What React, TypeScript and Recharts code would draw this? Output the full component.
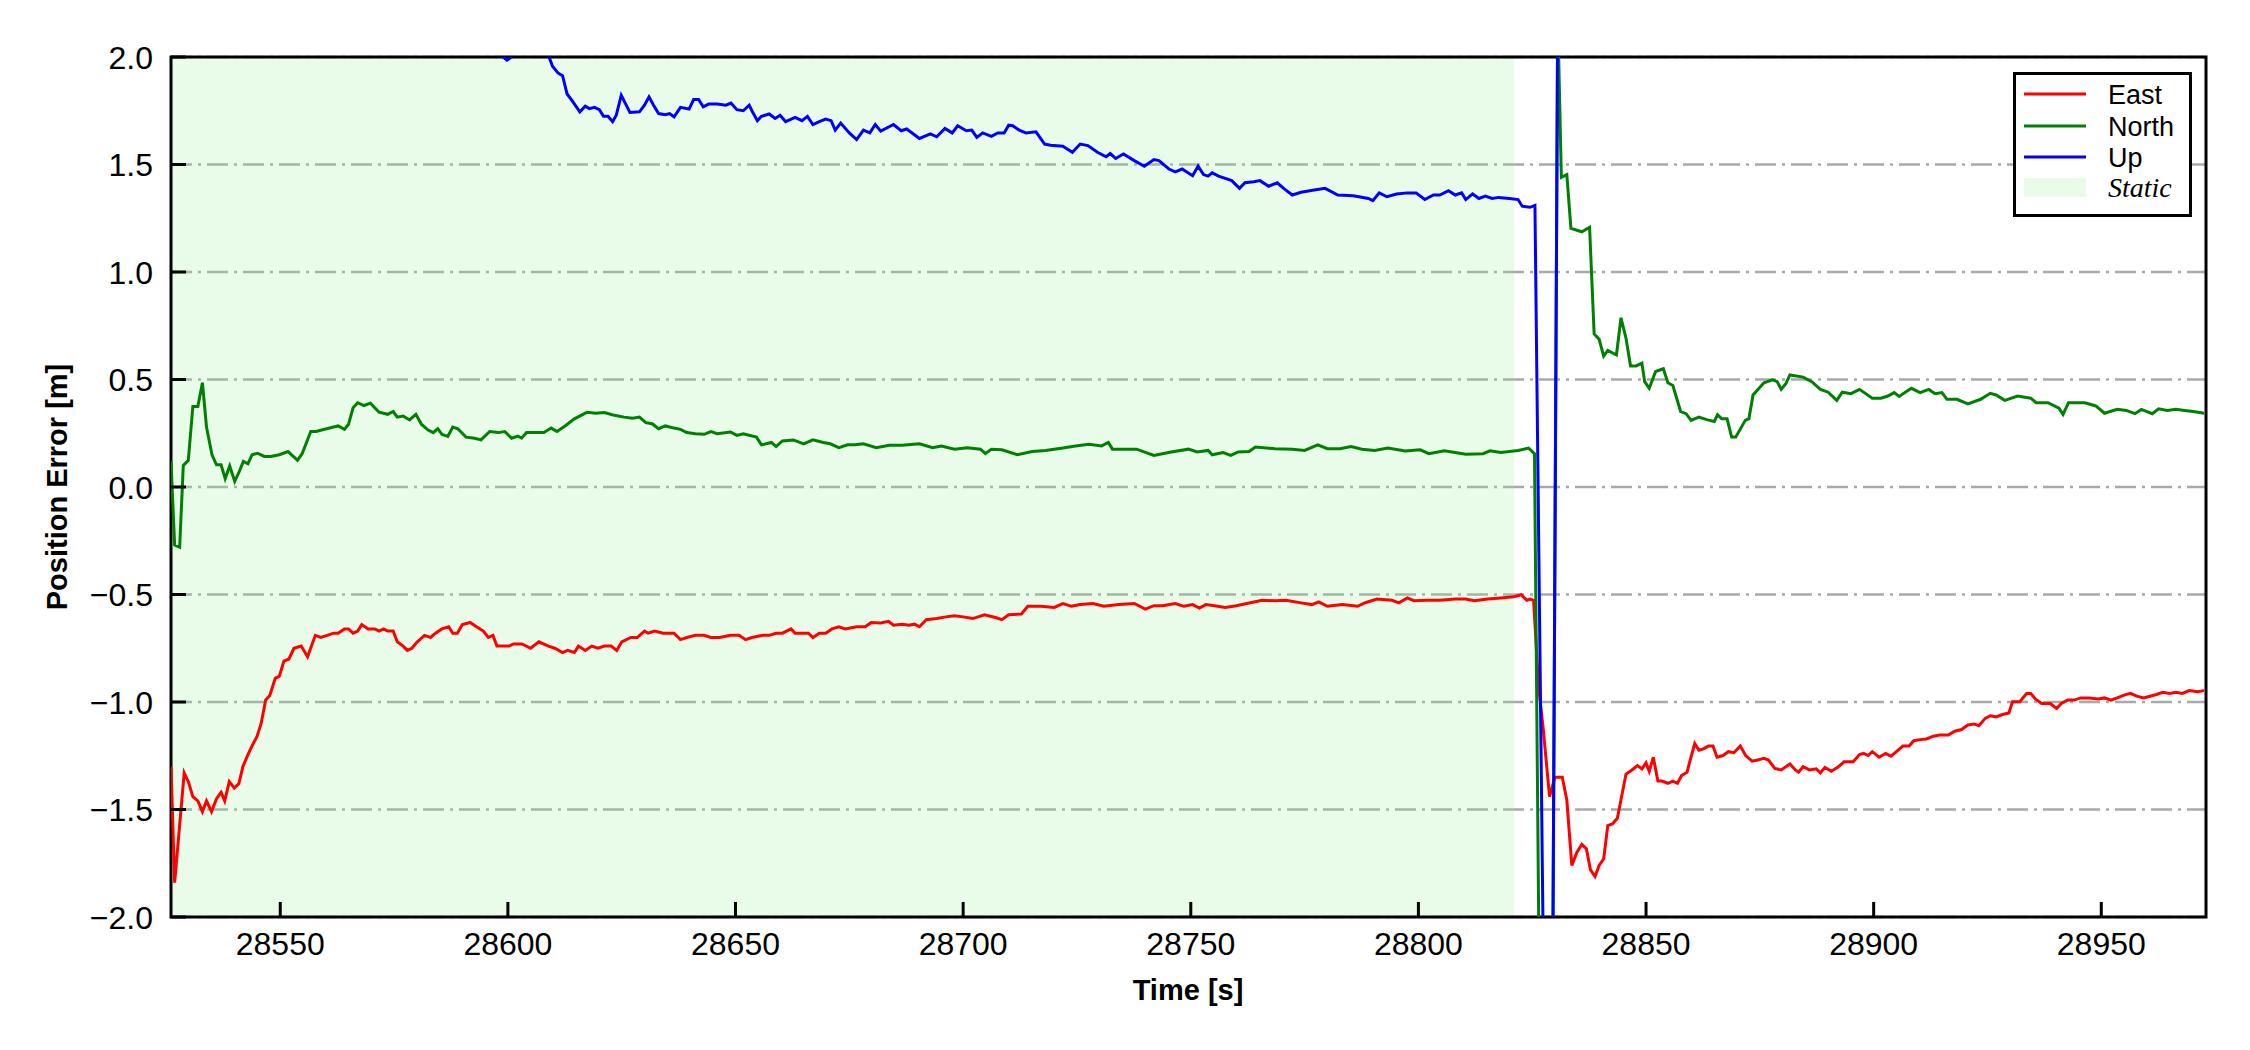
import React from 'react'
import {
  LineChart,
  Line,
  XAxis,
  YAxis,
  CartesianGrid,
  ReferenceArea,
  ReferenceLine,
  Legend,
} from 'recharts'

// [time (s), error (m)] pairs
const EAST: [number, number][] = [
  [28526.0, -1.30], [28526.8, -1.84], [28528.9, -1.33], [28529.8, -1.37], [28530.8, -1.44],
  [28531.9, -1.46], [28532.9, -1.51], [28533.8, -1.46], [28534.9, -1.51], [28536.0, -1.45],
  [28537.0, -1.42], [28537.8, -1.46], [28538.8, -1.37], [28539.9, -1.40], [28540.9, -1.38],
  [28541.8, -1.30], [28543.0, -1.24], [28543.9, -1.20], [28544.9, -1.16], [28545.8, -1.10],
  [28546.8, -0.99], [28547.7, -0.97], [28548.9, -0.89], [28549.8, -0.88], [28550.8, -0.81],
  [28551.9, -0.80], [28553.0, -0.75], [28554.6, -0.74], [28556.0, -0.79], [28557.7, -0.69],
  [28558.9, -0.70], [28560.3, -0.69], [28561.7, -0.68], [28562.7, -0.68], [28564.1, -0.66],
  [28565.0, -0.66], [28566.0, -0.68], [28567.0, -0.67], [28567.9, -0.64], [28569.3, -0.66],
  [28570.8, -0.66], [28571.7, -0.67], [28572.7, -0.66], [28573.6, -0.67], [28574.8, -0.67],
  [28575.7, -0.72], [28577.0, -0.74], [28577.9, -0.76], [28578.9, -0.75], [28580.1, -0.72],
  [28581.7, -0.69], [28583.0, -0.70], [28584.1, -0.68], [28585.5, -0.66], [28587.0, -0.65],
  [28587.9, -0.68], [28588.9, -0.68], [28590.0, -0.64], [28591.7, -0.63], [28593.1, -0.65],
  [28594.6, -0.67], [28595.7, -0.70], [28596.7, -0.69], [28597.6, -0.74], [28598.9, -0.74],
  [28600.3, -0.74], [28601.2, -0.73], [28603.1, -0.73], [28605.0, -0.75], [28606.8, -0.72],
  [28608.9, -0.74], [28610.3, -0.75], [28612.0, -0.77], [28613.1, -0.76], [28614.6, -0.77],
  [28615.5, -0.74], [28617.0, -0.76], [28618.4, -0.74], [28619.8, -0.75], [28621.2, -0.74],
  [28622.7, -0.74], [28623.9, -0.76], [28625.0, -0.72], [28627.0, -0.70], [28628.4, -0.70],
  [28630.0, -0.67], [28630.8, -0.68], [28632.2, -0.67], [28634.1, -0.68], [28636.5, -0.68],
  [28637.9, -0.71], [28639.3, -0.70], [28641.2, -0.69], [28643.1, -0.69], [28644.6, -0.70],
  [28646.5, -0.70], [28648.9, -0.69], [28650.8, -0.69], [28652.2, -0.71], [28653.6, -0.70],
  [28656.0, -0.69], [28657.4, -0.69], [28658.9, -0.68], [28660.3, -0.68], [28662.2, -0.66],
  [28663.1, -0.68], [28664.6, -0.68], [28666.0, -0.68], [28667.0, -0.70], [28668.4, -0.68],
  [28669.8, -0.68], [28671.2, -0.66], [28672.7, -0.65], [28674.1, -0.66], [28675.2, -0.656],
  [28676.6, -0.65], [28678.5, -0.65], [28679.8, -0.63], [28681.9, -0.632], [28683.6, -0.625],
  [28684.7, -0.643], [28686.6, -0.638], [28688.1, -0.643], [28689.3, -0.638], [28690.4, -0.65],
  [28691.9, -0.617], [28694.2, -0.612], [28696.2, -0.604], [28698.1, -0.599], [28700.0, -0.604],
  [28702.1, -0.612], [28704.7, -0.594], [28707.1, -0.607], [28708.5, -0.617], [28710.0, -0.594],
  [28712.8, -0.591], [28714.2, -0.555], [28717.1, -0.555], [28720.0, -0.56], [28721.9, -0.542],
  [28723.8, -0.555], [28725.7, -0.547], [28728.5, -0.542], [28730.9, -0.555], [28734.2, -0.547],
  [28737.6, -0.542], [28740.0, -0.568], [28741.9, -0.552], [28743.8, -0.552], [28746.6, -0.542],
  [28748.5, -0.555], [28750.4, -0.547], [28751.9, -0.563], [28753.3, -0.547], [28755.2, -0.552],
  [28757.6, -0.56], [28760.0, -0.552], [28762.3, -0.542], [28765.7, -0.527], [28768.5, -0.529],
  [28770.9, -0.527], [28774.2, -0.539], [28776.6, -0.547], [28778.1, -0.534], [28780.0, -0.555],
  [28783.3, -0.547], [28786.6, -0.555], [28788.5, -0.537], [28790.9, -0.521], [28794.2, -0.527],
  [28795.7, -0.539], [28797.6, -0.516], [28799.0, -0.529], [28801.9, -0.527], [28804.7, -0.527],
  [28808.1, -0.521], [28810.4, -0.521], [28812.3, -0.529], [28815.2, -0.521], [28818.1, -0.516],
  [28820.9, -0.511], [28822.6, -0.501], [28823.8, -0.527], [28824.5, -0.521], [28825.3, -0.527],
  [28826.4, -0.93], [28827.4, -1.12], [28828.8, -1.44], [28830.0, -1.35], [28831.6, -1.35],
  [28832.6, -1.456], [28833.7, -1.76], [28834.8, -1.70], [28835.9, -1.662], [28836.9, -1.683],
  [28837.8, -1.781], [28838.8, -1.812], [28839.7, -1.76], [28840.7, -1.729], [28841.6, -1.575],
  [28842.6, -1.567], [28843.7, -1.541], [28845.6, -1.335], [28846.9, -1.316], [28848.1, -1.296],
  [28849.1, -1.311], [28850.0, -1.283], [28850.7, -1.322], [28851.6, -1.257], [28852.6, -1.368],
  [28853.5, -1.368], [28854.8, -1.378], [28855.9, -1.368], [28856.9, -1.378], [28857.8, -1.342],
  [28859.0, -1.327], [28859.7, -1.27], [28860.7, -1.193], [28861.6, -1.224], [28862.6, -1.218],
  [28863.7, -1.205], [28864.7, -1.205], [28865.6, -1.257], [28866.9, -1.249], [28868.1, -1.231],
  [28869.3, -1.236], [28870.7, -1.205], [28871.9, -1.249], [28873.3, -1.275], [28874.5, -1.27],
  [28875.9, -1.262], [28876.9, -1.27], [28878.3, -1.309], [28879.7, -1.316], [28881.6, -1.288],
  [28882.8, -1.316], [28883.5, -1.327], [28884.5, -1.301], [28885.9, -1.316], [28887.4, -1.311],
  [28888.3, -1.329], [28889.3, -1.304], [28890.7, -1.322], [28892.1, -1.304], [28893.5, -1.278],
  [28895.5, -1.278], [28896.9, -1.244], [28897.8, -1.239], [28898.8, -1.249], [28899.7, -1.231],
  [28901.2, -1.257], [28902.6, -1.239], [28903.8, -1.252], [28905.0, -1.231], [28906.4, -1.205],
  [28907.8, -1.205], [28908.8, -1.18], [28910.2, -1.175], [28911.6, -1.172], [28913.1, -1.159],
  [28914.5, -1.154], [28916.4, -1.154], [28917.8, -1.136], [28919.3, -1.128], [28920.7, -1.107],
  [28922.1, -1.102], [28923.1, -1.11], [28924.5, -1.076], [28925.6, -1.064], [28926.9, -1.069],
  [28928.3, -1.058], [28929.7, -1.051], [28930.5, -0.999], [28932.1, -0.999], [28933.6, -0.96],
  [28934.5, -0.96], [28935.5, -0.986], [28936.9, -1.007], [28938.8, -1.007], [28940.2, -1.03],
  [28941.2, -1.007], [28942.6, -0.991], [28944.0, -0.991], [28945.5, -0.981], [28947.4, -0.981],
  [28949.3, -0.986], [28950.7, -0.981], [28952.1, -0.991], [28953.5, -0.981], [28955.0, -0.968],
  [28956.4, -0.96], [28957.8, -0.973], [28959.3, -0.981], [28960.7, -0.973], [28962.1, -0.965],
  [28963.5, -0.955], [28965.0, -0.96], [28966.4, -0.955], [28967.8, -0.96], [28969.3, -0.947],
  [28971.2, -0.952], [28972.6, -0.947],
]

const NORTH: [number, number][] = [
  [28526.0, 0.12], [28526.8, -0.27], [28527.9, -0.28], [28528.7, 0.10], [28529.8, 0.124],
  [28530.8, 0.374], [28531.9, 0.374], [28532.9, 0.485], [28533.8, 0.279], [28535.0, 0.15],
  [28536.0, 0.103], [28537.0, 0.103], [28537.9, 0.039], [28538.9, 0.098], [28540.0, 0.026],
  [28541.0, 0.072], [28541.9, 0.119], [28542.9, 0.108], [28543.8, 0.15], [28545.0, 0.157],
  [28546.5, 0.142], [28547.9, 0.142], [28549.8, 0.15], [28551.7, 0.165], [28553.8, 0.124],
  [28554.8, 0.155], [28556.7, 0.258], [28557.9, 0.258], [28559.3, 0.266], [28561.7, 0.279],
  [28562.7, 0.284], [28564.1, 0.268], [28565.0, 0.292], [28566.0, 0.369], [28567.0, 0.392],
  [28568.4, 0.379], [28569.8, 0.39], [28571.7, 0.348], [28573.6, 0.338], [28574.8, 0.351],
  [28575.7, 0.325], [28577.0, 0.33], [28578.4, 0.312], [28579.8, 0.338], [28581.0, 0.292],
  [28582.4, 0.266], [28583.6, 0.253], [28584.6, 0.271], [28585.5, 0.245], [28586.8, 0.235],
  [28587.9, 0.279], [28589.0, 0.271], [28590.8, 0.232], [28592.7, 0.227], [28594.1, 0.219],
  [28596.0, 0.258], [28597.9, 0.253], [28599.3, 0.258], [28600.8, 0.227], [28602.2, 0.237],
  [28603.0, 0.227], [28604.1, 0.253], [28606.0, 0.253], [28607.9, 0.253], [28609.5, 0.274],
  [28610.8, 0.258], [28612.7, 0.286], [28614.6, 0.317], [28616.5, 0.338], [28617.4, 0.348],
  [28619.3, 0.343], [28621.2, 0.346], [28623.1, 0.335], [28625.5, 0.325], [28627.4, 0.32],
  [28628.9, 0.325], [28630.3, 0.299], [28631.7, 0.294], [28633.1, 0.271], [28634.6, 0.284],
  [28636.5, 0.274], [28637.9, 0.268], [28639.3, 0.253], [28641.2, 0.248], [28643.1, 0.245],
  [28644.6, 0.258], [28646.0, 0.248], [28648.9, 0.256], [28650.3, 0.24], [28651.7, 0.248],
  [28654.6, 0.232], [28655.7, 0.196], [28657.9, 0.207], [28658.9, 0.188], [28660.3, 0.214],
  [28662.7, 0.219], [28665.0, 0.201], [28667.0, 0.219], [28669.3, 0.207], [28670.8, 0.201],
  [28672.7, 0.183], [28674.6, 0.196], [28676.2, 0.196], [28678.1, 0.201], [28680.9, 0.183],
  [28683.8, 0.194], [28686.6, 0.194], [28690.4, 0.201], [28693.3, 0.183], [28695.2, 0.191],
  [28698.1, 0.176], [28700.9, 0.183], [28703.8, 0.176], [28704.9, 0.155], [28706.2, 0.176],
  [28708.5, 0.173], [28711.9, 0.15], [28715.2, 0.165], [28718.1, 0.17], [28721.9, 0.181],
  [28724.7, 0.191], [28727.6, 0.199], [28730.4, 0.191], [28731.9, 0.207], [28732.8, 0.176],
  [28738.1, 0.176], [28741.9, 0.147], [28745.7, 0.163], [28749.5, 0.176], [28751.4, 0.163],
  [28753.8, 0.17], [28754.7, 0.15], [28757.1, 0.16], [28758.8, 0.147], [28760.4, 0.163],
  [28762.8, 0.165], [28764.2, 0.186], [28768.5, 0.178], [28772.3, 0.176], [28775.0, 0.17],
  [28777.9, 0.196], [28780.0, 0.178], [28782.8, 0.178], [28785.2, 0.188], [28787.6, 0.176],
  [28790.4, 0.17], [28793.3, 0.181], [28797.1, 0.168], [28800.4, 0.173], [28802.3, 0.155],
  [28805.7, 0.168], [28810.4, 0.152], [28814.2, 0.155], [28815.7, 0.168], [28818.1, 0.16],
  [28821.9, 0.17], [28824.2, 0.181], [28825.5, 0.155], [28826.5, -2.2], [28828.0, -7.0],
  [28829.5, -2.3], [28830.6, 2.2], [28831.4, 1.44], [28832.6, 1.453], [28833.5, 1.203],
  [28835.9, 1.187], [28837.6, 1.208], [28838.6, 0.712], [28839.7, 0.687], [28840.7, 0.609],
  [28841.6, 0.635], [28843.5, 0.614], [28844.5, 0.787], [28845.6, 0.692], [28846.6, 0.563],
  [28847.8, 0.563], [28849.1, 0.576], [28849.7, 0.49], [28850.7, 0.459], [28852.1, 0.537],
  [28853.8, 0.55], [28854.8, 0.485], [28855.9, 0.472], [28857.6, 0.351], [28858.8, 0.341],
  [28859.9, 0.31], [28861.6, 0.325], [28863.5, 0.312], [28865.0, 0.305], [28865.7, 0.336],
  [28866.6, 0.318], [28867.8, 0.318], [28868.8, 0.232], [28869.7, 0.232], [28871.8, 0.31],
  [28872.6, 0.318], [28873.5, 0.428], [28875.9, 0.485], [28877.8, 0.498], [28878.8, 0.49],
  [28879.7, 0.454], [28880.7, 0.48], [28881.6, 0.521], [28884.5, 0.511], [28886.4, 0.49],
  [28888.3, 0.454], [28890.0, 0.441], [28891.9, 0.403], [28893.1, 0.441], [28895.0, 0.434],
  [28896.9, 0.454], [28899.7, 0.413], [28901.6, 0.413], [28903.1, 0.423], [28904.5, 0.439],
  [28905.6, 0.421], [28907.2, 0.444], [28908.3, 0.459], [28910.2, 0.439], [28912.1, 0.454],
  [28913.5, 0.434], [28915.0, 0.439], [28916.1, 0.408], [28918.3, 0.408], [28920.7, 0.387],
  [28923.5, 0.408], [28925.6, 0.436], [28926.9, 0.428], [28928.8, 0.403], [28931.6, 0.423],
  [28934.5, 0.413], [28935.7, 0.392], [28938.3, 0.392], [28940.7, 0.367], [28941.6, 0.338],
  [28942.8, 0.392], [28946.4, 0.392], [28948.8, 0.377], [28950.7, 0.343], [28953.5, 0.361],
  [28955.5, 0.356], [28957.4, 0.341], [28958.8, 0.361], [28961.2, 0.341], [28962.6, 0.364],
  [28964.5, 0.356], [28966.4, 0.361], [28968.3, 0.356], [28970.2, 0.351], [28972.6, 0.343],
]

const UP: [number, number][] = [
  [28597.0, 2.08], [28598.4, 2.01], [28599.8, 1.985], [28600.8, 2.0], [28602.0, 2.08],
  [28605.0, 2.12], [28608.0, 2.06], [28608.9, 2.008], [28609.8, 1.957], [28611.0, 1.926],
  [28612.0, 1.913], [28613.0, 1.828], [28614.1, 1.797], [28615.8, 1.745], [28617.0, 1.771],
  [28617.9, 1.76], [28619.0, 1.766], [28620.1, 1.755], [28621.0, 1.724], [28622.0, 1.724],
  [28623.0, 1.699], [28623.8, 1.729], [28624.9, 1.822], [28625.8, 1.784], [28626.8, 1.742],
  [28628.9, 1.745], [28630.0, 1.776], [28631.0, 1.815], [28632.0, 1.776], [28633.1, 1.737],
  [28634.6, 1.732], [28635.5, 1.737], [28636.5, 1.722], [28637.9, 1.766], [28639.8, 1.758],
  [28640.8, 1.802], [28641.9, 1.802], [28642.9, 1.768], [28644.1, 1.781], [28646.0, 1.781],
  [28647.9, 1.776], [28649.0, 1.786], [28650.3, 1.755], [28651.7, 1.75], [28653.0, 1.776],
  [28653.6, 1.75], [28654.8, 1.704], [28655.7, 1.724], [28657.4, 1.735], [28658.7, 1.714],
  [28659.8, 1.729], [28661.0, 1.699], [28663.1, 1.719], [28664.6, 1.704], [28665.8, 1.724],
  [28667.0, 1.686], [28668.4, 1.699], [28669.8, 1.711], [28671.0, 1.704], [28671.9, 1.66],
  [28673.1, 1.693], [28675.0, 1.647], [28676.6, 1.616], [28678.1, 1.66], [28679.5, 1.647],
  [28680.7, 1.686], [28681.9, 1.655], [28684.7, 1.686], [28686.4, 1.657], [28687.6, 1.665],
  [28690.4, 1.621], [28692.8, 1.642], [28694.2, 1.629], [28696.0, 1.668], [28697.6, 1.647],
  [28698.8, 1.68], [28700.7, 1.657], [28701.9, 1.66], [28703.0, 1.626], [28704.3, 1.647],
  [28706.2, 1.631], [28707.6, 1.647], [28709.0, 1.647], [28710.0, 1.683], [28710.9, 1.68],
  [28712.3, 1.66], [28713.8, 1.647], [28716.0, 1.652], [28717.9, 1.595], [28719.2, 1.59],
  [28721.9, 1.585], [28724.0, 1.557], [28725.7, 1.595], [28727.4, 1.588], [28729.5, 1.557],
  [28731.4, 1.536], [28732.3, 1.551], [28733.5, 1.528], [28735.2, 1.549], [28737.6, 1.518],
  [28739.8, 1.492], [28741.9, 1.523], [28743.0, 1.518], [28745.2, 1.479], [28746.6, 1.466],
  [28748.1, 1.479], [28750.4, 1.448], [28751.6, 1.492], [28752.8, 1.453], [28753.8, 1.446],
  [28754.7, 1.461], [28756.1, 1.446], [28759.0, 1.425], [28760.7, 1.389], [28761.9, 1.415],
  [28763.8, 1.42], [28765.2, 1.425], [28767.1, 1.399], [28769.0, 1.415], [28770.4, 1.389],
  [28772.3, 1.358], [28774.2, 1.371], [28777.1, 1.381], [28779.5, 1.389], [28782.3, 1.358],
  [28785.7, 1.355], [28789.0, 1.342], [28790.0, 1.332], [28791.4, 1.368], [28793.1, 1.35],
  [28795.2, 1.363], [28797.6, 1.368], [28799.5, 1.368], [28801.4, 1.337], [28803.3, 1.358],
  [28804.7, 1.358], [28806.6, 1.378], [28808.1, 1.358], [28809.5, 1.368], [28810.4, 1.337],
  [28811.9, 1.363], [28813.3, 1.342], [28814.7, 1.353], [28816.2, 1.342], [28817.6, 1.347],
  [28820.0, 1.342], [28821.9, 1.337], [28822.8, 1.306], [28824.5, 1.301], [28825.6, 1.31],
  [28827.4, -2.1], [28828.5, -6.0], [28829.5, -2.3], [28830.6, 2.2], [28832.0, 3.0],
]

const X_TICKS = [28550, 28600, 28650, 28700, 28750, 28800, 28850, 28900, 28950]
const Y_TICKS = [-2, -1.5, -1, -0.5, 0, 0.5, 1, 1.5, 2]
const X_DOMAIN: [number, number] = [28526, 28973]
const Y_DOMAIN: [number, number] = [-2, 2]
const STATIC_SPAN: [number, number] = [28526, 28821]

const SERIES = [
  { name: 'East', color: '#ff0000', points: EAST },
  { name: 'North', color: '#008000', points: NORTH },
  { name: 'Up', color: '#0000ff', points: UP },
]

const toRows = (pts: [number, number][]) => pts.map(([t, v]) => ({ t, v }))

const SANS = '"Liberation Sans", Arial, Helvetica, sans-serif'

// inward tick lengths expressed in axis units (about 15 px each)
const X_TICK_LEN = 0.07
const Y_TICK_LEN = 3.3

const fmtY = (v: number) => v.toFixed(1).replace('-', '\u2212')

const XTick = (props: any) => {
  const { x, payload } = props
  return (
    <text x={x} y={955} textAnchor='middle' fontSize={32} fontFamily={SANS} fill='#000'>
      {payload.value}
    </text>
  )
}

const YTick = (props: any) => {
  const { y, payload } = props
  return (
    <text x={153} y={y + 11.5} textAnchor='end' fontSize={32} fontFamily={SANS} fill='#000'>
      {fmtY(payload.value)}
    </text>
  )
}

const LegendBox = () => (
  <svg width={179} height={145} style={{ display: 'block' }}>
    <rect x={1.5} y={1.5} width={176} height={142} fill='#fff' stroke='#000' strokeWidth={3} />
    {SERIES.map((s, i) => {
      const cy = [22, 54, 85][i]
      return (
        <g key={s.name}>
          <line x1={11} x2={73} y1={cy} y2={cy} stroke={s.color} strokeWidth={3} />
          <text x={95} y={cy + 9.5} fontSize={27} fontFamily={SANS} fill='#000'>
            {s.name}
          </text>
        </g>
      )
    })}
    <rect x={11} y={106} width={62} height={19} fill='#90ee90' fillOpacity={0.2} />
    <text x={95} y={125} fontSize={28} fontStyle='italic' fontFamily='"Liberation Serif", "Times New Roman", serif' fill='#000'>
      Static
    </text>
  </svg>
)

export default function App() {
  return (
    <div style={{ position: 'absolute', left: 0, top: 0, width: 2250, height: 1050, background: '#fff' }}>
      <LineChart width={2250} height={1050} margin={{ top: 57, right: 44, bottom: 0, left: 0 }}>
        <CartesianGrid
          horizontal
          vertical={false}
          stroke='#a9a9a9'
          strokeWidth={2.5}
          strokeDasharray='21 6 3 6'
        />
        <ReferenceArea
          x1={STATIC_SPAN[0]}
          x2={STATIC_SPAN[1]}
          y1={Y_DOMAIN[0]}
          y2={Y_DOMAIN[1]}
          fill='#90ee90'
          fillOpacity={0.2}
          stroke='none'
        />
        <XAxis
          type='number'
          dataKey='t'
          domain={X_DOMAIN}
          ticks={X_TICKS}
          allowDataOverflow
          height={133}
          axisLine={false}
          tickLine={false}
          tick={<XTick />}
          label={() => (
            <text x={1188} y={1000} textAnchor='middle' fontSize={29} fontWeight='bold' fontFamily={SANS} fill='#000'>
              Time [s]
            </text>
          )}
        />
        <YAxis
          type='number'
          domain={Y_DOMAIN}
          ticks={Y_TICKS}
          allowDataOverflow
          width={171}
          axisLine={false}
          tickLine={false}
          tick={<YTick />}
          label={() => (
            <text
              x={57}
              y={487}
              transform='rotate(-90 57 487)'
              textAnchor='middle'
              dominantBaseline='central'
              fontSize={29}
              fontWeight='bold'
              fontFamily={SANS}
              fill='#000'>
              Position Error [m]
            </text>
          )}
        />
        {SERIES.map((s) => (
          <Line
            key={s.name}
            data={toRows(s.points)}
            dataKey='v'
            name={s.name}
            type='linear'
            stroke={s.color}
            strokeWidth={3}
            dot={false}
            activeDot={false}
            isAnimationActive={false}
          />
        ))}
        {X_TICKS.map((t) => (
          <ReferenceLine
            key={'xt' + t}
            segment={[
              { x: t, y: Y_DOMAIN[0] },
              { x: t, y: Y_DOMAIN[0] + X_TICK_LEN },
            ]}
            stroke='#000'
            strokeWidth={3}
            ifOverflow='visible'
          />
        ))}
        {Y_TICKS.map((v) => (
          <ReferenceLine
            key={'yt' + v}
            segment={[
              { x: X_DOMAIN[0], y: v },
              { x: X_DOMAIN[0] + Y_TICK_LEN, y: v },
            ]}
            stroke='#000'
            strokeWidth={3}
            ifOverflow='visible'
          />
        ))}
        <ReferenceArea
          x1={X_DOMAIN[0]}
          x2={X_DOMAIN[1]}
          y1={Y_DOMAIN[0]}
          y2={Y_DOMAIN[1]}
          fill='none'
          stroke='#000'
          strokeWidth={3}
        />
        <Legend
          layout='vertical'
          align='center'
          verticalAlign='middle'
          content={() => <LegendBox />}
          wrapperStyle={{ position: 'absolute', left: 2013, top: 72, width: 179, height: 145 }}
        />
      </LineChart>
    </div>
  )
}
